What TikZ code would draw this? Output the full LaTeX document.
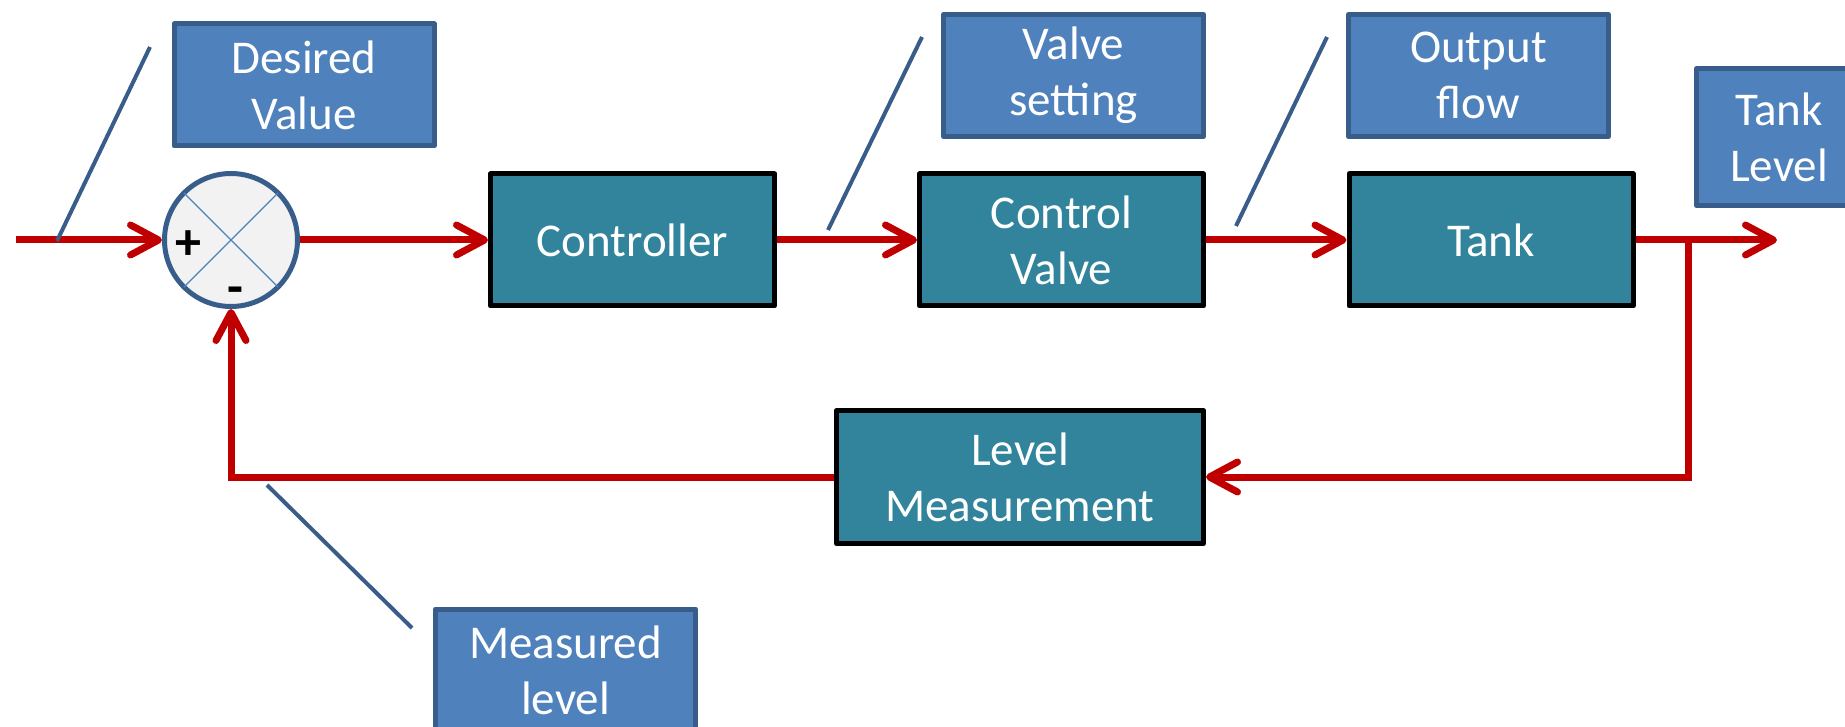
\documentclass[tikz,border=0pt]{standalone}
\usepackage{fontspec}
\setmainfont{Carlito}
\usetikzlibrary{arrows.meta}
\definecolor{sigred}{HTML}{C00000}
\definecolor{boxteal}{HTML}{31849B}
\definecolor{lblfill}{HTML}{4F81BD}
\definecolor{lbledge}{HTML}{385D8A}
\definecolor{sumfill}{HTML}{F2F2F2}
\begin{document}
\begin{tikzpicture}[x=1pt,y=-1pt,
  block/.style={draw=black, line width=5pt, fill=boxteal, text=white, align=center,
    inner sep=0pt, font=\fontsize{47}{56}\selectfont, minimum width=284pt,
    minimum height=132pt, line join=round},
  tagbox/.style={draw=lbledge, line width=5pt, fill=lblfill, text=white, align=center,
    inner sep=0pt, font=\fontsize{47}{56}\selectfont, minimum width=260pt,
    minimum height=122pt, line join=round},
  sig/.style={draw=sigred, line width=7pt, -{Straight Barb[length=28pt,width=30pt,round]}},
  leader/.style={draw=lbledge, line width=4pt},
  xline/.style={draw=lblfill, line width=1.4pt, shorten <=2.5pt, shorten >=2.5pt},
  signmark/.style={font=\fontsize{52}{52}\selectfont\bfseries, inner sep=0pt}
]
\useasboundingbox (0,0) rectangle (1845,727);
\clip (0,0) rectangle (1845,727);

% blocks
\node[block] (ctrl) at (632.5,240) {Controller};
\node[block] (valve) at (1061.5,240) {Control\\Valve};
\node[block] (tank) at (1491,240) {Tank};
\node[block, minimum width=367pt, minimum height=133pt] (meas) at (1020,477) {Level\\Measurement};

% summing junction
\node[circle, draw=lbledge, line width=5pt, fill=sumfill, minimum size=133pt, inner sep=0pt] (sum) at (231,240) {};
\draw[xline] (sum.45) -- (sum.225);
\draw[xline] (sum.135) -- (sum.-45);
\node[signmark] (plus) at (188,245) {+};
\node[signmark] (minus) at (235,296) {-};

% tag boxes
\node[tagbox] (tdes) at (304,85) {Desired\\Value};
\node[tagbox] (tvalve) at (1073.5,75.5) {Valve\\setting};
\node[tagbox] (tflow) at (1478.5,75.5) {Output\\flow};
\node[tagbox, minimum width=165pt, minimum height=137pt] (tlevel) at (1779,137) {Tank\\Level};
\node[tagbox] (tmeas) at (565.5,670) {Measured\\level};

% signal lines
\coordinate (src) at (16,240);
\coordinate (outend) at (1777,240);
\coordinate (branch) at (1688,240);
\draw[sig] (src) -- (sum.west);
\draw[sig] (sum.east) -- (ctrl.west);
\draw[sig] (ctrl.east) -- (valve.west);
\draw[sig] (valve.east) -- (tank.west);
\draw[sig] (tank.east) -- (outend);
\draw[sig] (branch) |- (meas.east);
\draw[sig] (meas.west) -| (sum.south);

% leader lines
\coordinate (l1a) at (150,47);  \coordinate (l1b) at (57,241);
\coordinate (l2a) at (922,37);  \coordinate (l2b) at (828,230);
\coordinate (l3a) at (1327,37); \coordinate (l3b) at (1236,226);
\coordinate (l4a) at (267,485); \coordinate (l4b) at (412,628);
\draw[leader] (l1a) -- (l1b);
\draw[leader] (l2a) -- (l2b);
\draw[leader] (l3a) -- (l3b);
\draw[leader] (l4a) -- (l4b);
\end{tikzpicture}
\end{document}
